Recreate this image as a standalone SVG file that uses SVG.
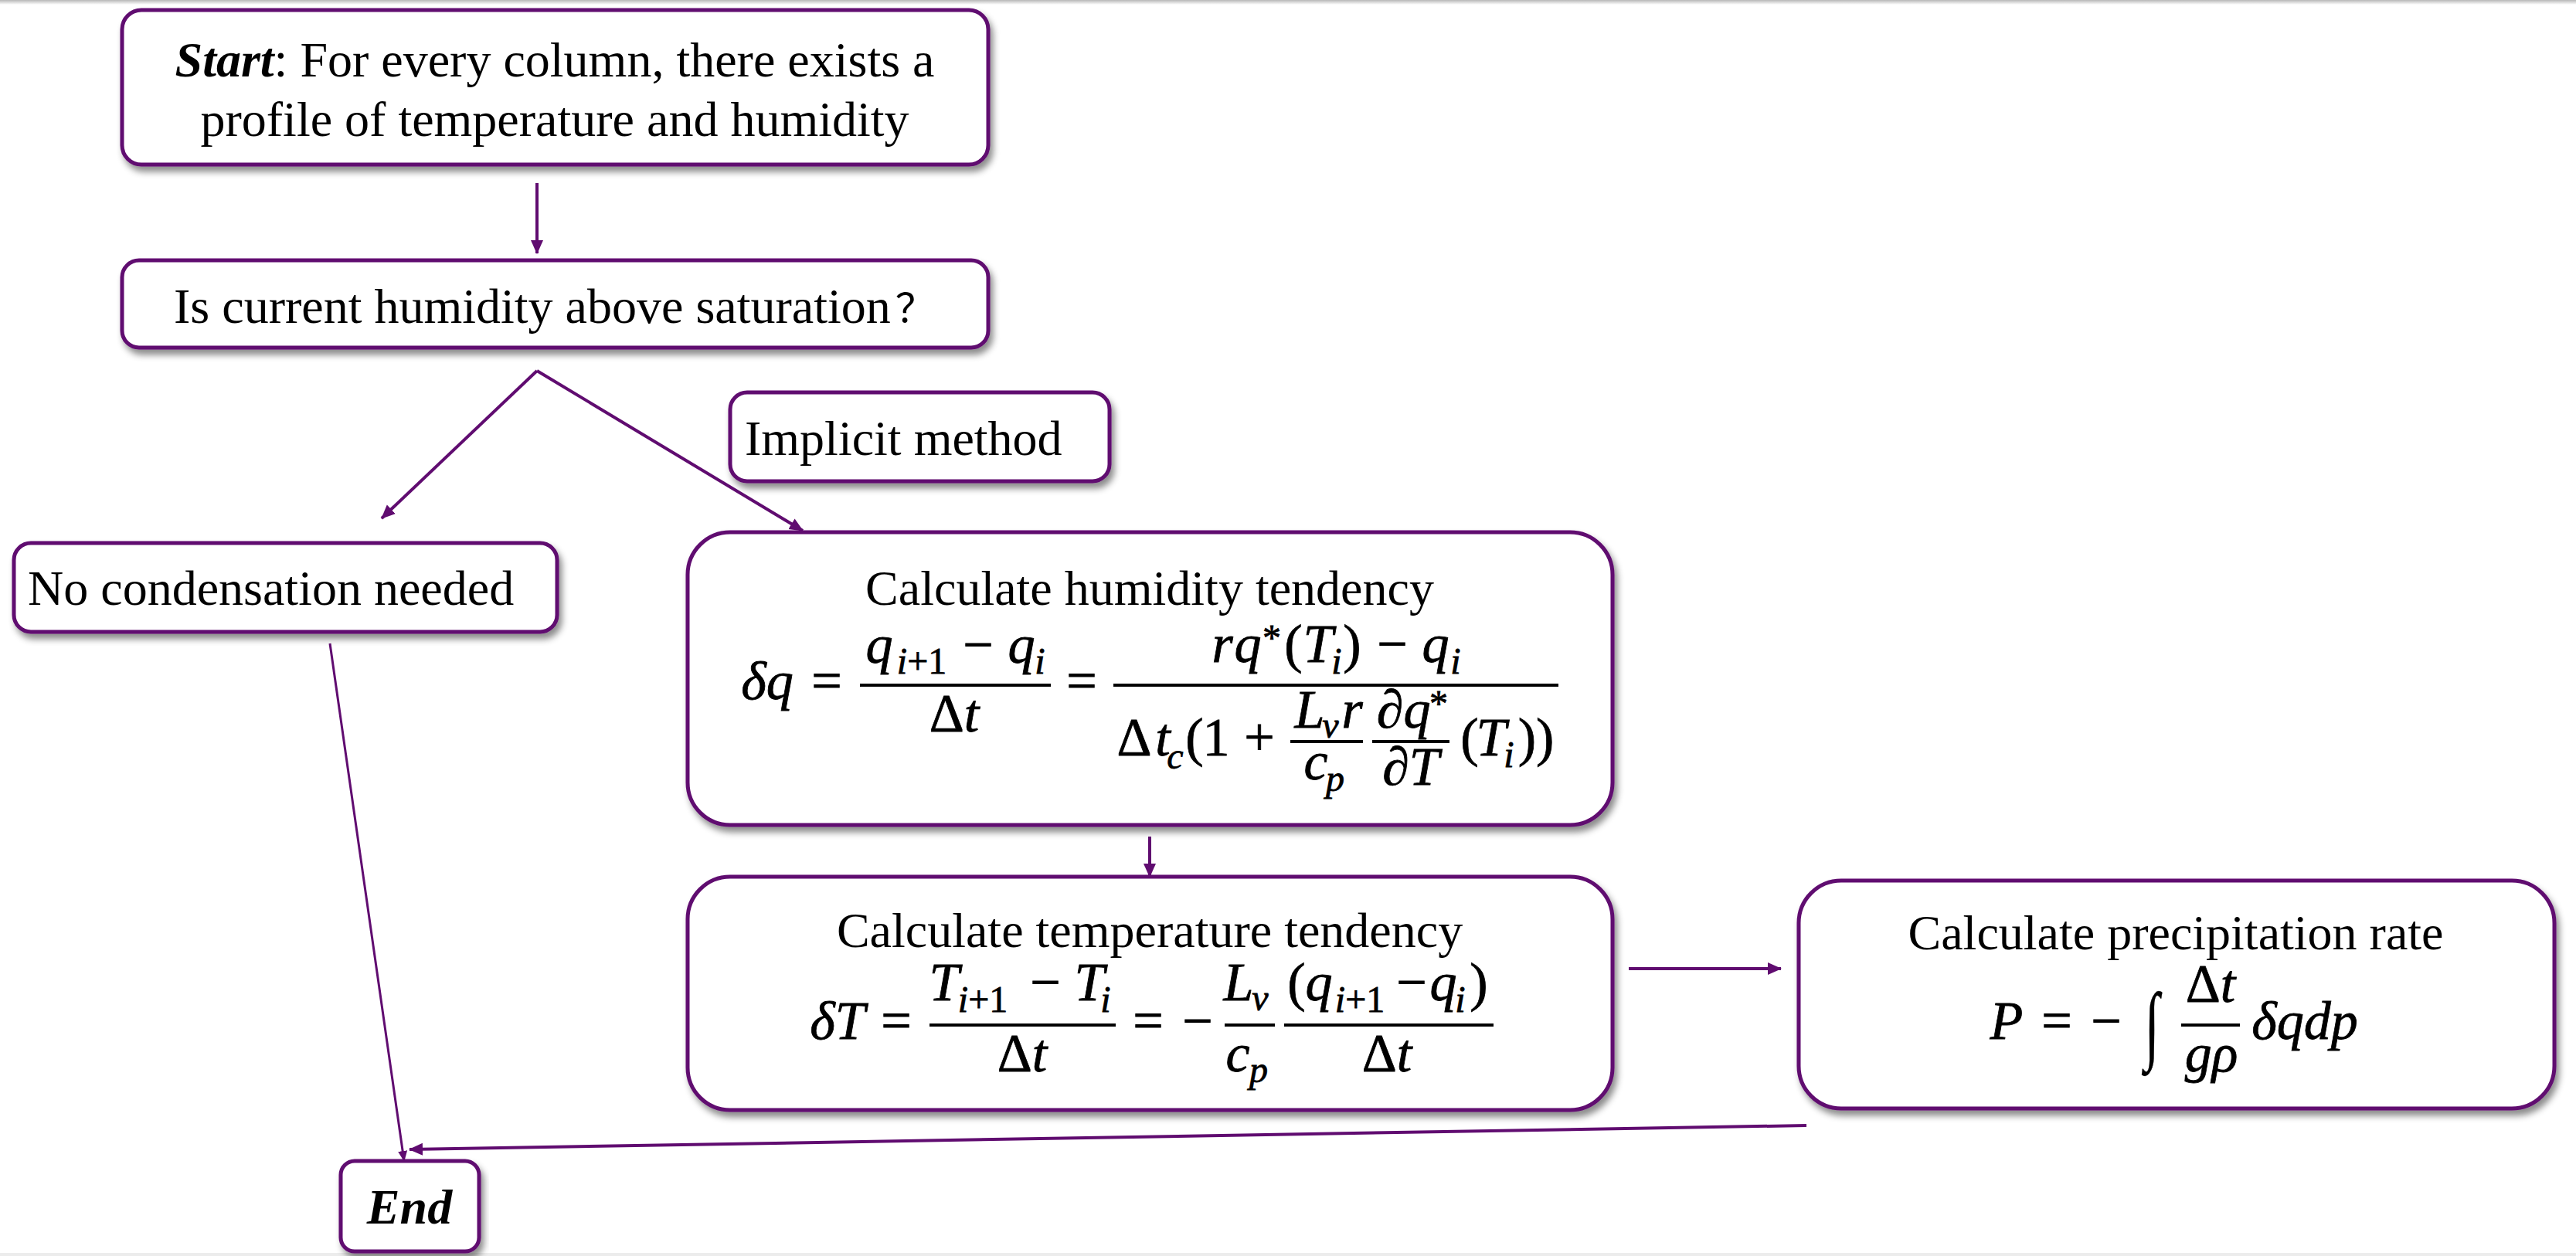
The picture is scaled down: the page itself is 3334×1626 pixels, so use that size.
<svg xmlns="http://www.w3.org/2000/svg" width="3334" height="1626" viewBox="0 0 3334 1626">
<defs>
<filter id="sh" x="-5%" y="-10%" width="112%" height="130%">
<feDropShadow dx="4" dy="7" stdDeviation="4" flood-color="#000" flood-opacity="0.45"/>
</filter>
<marker id="ah" markerUnits="userSpaceOnUse" markerWidth="18" markerHeight="18" viewBox="0 0 18 18" refX="17" refY="9" orient="auto">
<path d="M0,1 L18,9 L0,17 z" fill="#600C70"/>
</marker>
<marker id="ahs" markerUnits="userSpaceOnUse" markerWidth="14" markerHeight="14" viewBox="0 0 14 14" refX="13" refY="7" orient="auto">
<path d="M0,1 L14,7 L0,13 z" fill="#600C70"/>
</marker>
<linearGradient id="topg" x1="0" y1="0" x2="0" y2="1">
<stop offset="0" stop-color="#b8b8b8"/>
<stop offset="1" stop-color="#ffffff"/>
</linearGradient>
</defs>
<style>
.box{fill:#fff;stroke:#600C70;stroke-width:5;filter:url(#sh)}
.t{font-family:"Liberation Serif","Times New Roman",serif;font-size:64px;fill:#000}
.m{font-family:"Liberation Serif","Times New Roman",serif;font-size:70px;font-style:italic;fill:#000;text-anchor:middle;stroke:#000;stroke-width:0.8}
.r{font-style:normal}
.s{font-size:48px}
.bar{stroke:#000;stroke-width:4}
.c{fill:none;stroke:#600C70;stroke-width:4}
</style>
<rect x="0" y="0" width="3334" height="1626" fill="#fff"/>
<rect x="0" y="0" width="3334" height="6" fill="url(#topg)"/>
<rect x="0" y="1622" width="3334" height="4" fill="#ececec"/>

<g id="connectors">
<line class="c" x1="695" y1="237" x2="695" y2="328" marker-end="url(#ah)"/>
<line class="c" x1="695" y1="480" x2="494" y2="671" marker-end="url(#ah)"/>
<line class="c" x1="695" y1="480" x2="1039" y2="687" marker-end="url(#ah)"/>
<line class="c" x1="1488" y1="1083" x2="1488" y2="1135" marker-end="url(#ah)"/>
<line class="c" x1="2108" y1="1254" x2="2305" y2="1254" marker-end="url(#ah)"/>
<line class="c" style="stroke-width:3" x1="427" y1="833" x2="523" y2="1503" marker-end="url(#ahs)"/>
<line class="c" x1="2338" y1="1457" x2="530" y2="1488" marker-end="url(#ah)"/>
</g>

<g id="start">
<rect class="box" x="158" y="13" width="1121" height="200" rx="25"/>
<text class="t" x="718" y="99" text-anchor="middle"><tspan font-weight="bold" font-style="italic">Start</tspan>: For every column, there exists a</text>
<text class="t" x="718" y="176" text-anchor="middle">profile of temperature and humidity</text>
</g>

<g id="question">
<rect class="box" x="158" y="337" width="1121" height="113" rx="22"/>
<text class="t" x="225" y="418">Is current humidity above saturation<tspan dx="6" font-family="Noto Sans CJK SC, sans-serif" font-size="52">？</tspan></text>
</g>

<g id="implicit">
<rect class="box" x="945" y="508" width="491" height="115" rx="22"/>
<text class="t" x="964" y="589">Implicit method</text>
</g>

<g id="nocond">
<rect class="box" x="18" y="703" width="703" height="115" rx="22"/>
<text class="t" x="36" y="783">No condensation needed</text>
</g>

<g id="humidity">
<rect class="box" x="890" y="689" width="1197" height="379" rx="55"/>
<text class="t" x="1488" y="783" text-anchor="middle">Calculate humidity tendency</text>
<text class="m" x="993" y="905">δq</text>
<text class="m r" x="1070" y="905">=</text>
<line class="bar" x1="1113" y1="887" x2="1360" y2="887"/>
<text class="m" x="1138" y="858">q</text>
<text class="m s" x="1193" y="872">i<tspan class="r">+1</tspan></text>
<text class="m r" x="1266" y="858">−</text>
<text class="m" x="1322" y="858">q</text>
<text class="m s" x="1346" y="872">i</text>
<text class="m" x="1235" y="947"><tspan class="r">Δ</tspan>t</text>
<text class="m r" x="1400" y="905">=</text>
<line class="bar" x1="1441" y1="887" x2="2017" y2="887"/>
<text class="m" x="1582" y="857">r</text>
<text class="m" x="1615" y="857">q</text>
<text class="m r s" x="1646" y="842">*</text>
<text class="m r" x="1674" y="857">(</text>
<text class="m" x="1706" y="857">T</text>
<text class="m s" x="1730" y="872">i</text>
<text class="m r" x="1750" y="857">)</text>
<text class="m r" x="1802" y="857">−</text>
<text class="m" x="1858" y="857">q</text>
<text class="m s" x="1884" y="872">i</text>
<text class="m r" x="1468" y="978">Δ</text>
<text class="m" x="1505" y="978">t</text>
<text class="m s" x="1521" y="995">c</text>
<text class="m r" x="1546" y="978">(</text>
<text class="m r" x="1574" y="978">1</text>
<text class="m r" x="1630" y="978">+</text>
<line class="bar" x1="1670" y1="960" x2="1764" y2="960"/>
<text class="m" x="1695" y="942">L</text>
<text class="m s" x="1722" y="955">v</text>
<text class="m" x="1750" y="942">r</text>
<text class="m" x="1703" y="1009">c</text>
<text class="m s" x="1728" y="1024">p</text>
<line class="bar" x1="1776" y1="960" x2="1876" y2="960"/>
<text class="m" x="1799" y="942">∂</text>
<text class="m" x="1834" y="942">q</text>
<text class="m r s" x="1862" y="927">*</text>
<text class="m" x="1826" y="1016">∂T</text>
<text class="m r" x="1902" y="978">(</text>
<text class="m" x="1930" y="978">T</text>
<text class="m s" x="1953" y="993">i</text>
<text class="m r" x="1988" y="978">))</text>
</g>

<g id="temperature">
<rect class="box" x="890" y="1135" width="1197" height="302" rx="55"/>
<text class="t" x="1488" y="1226" text-anchor="middle">Calculate temperature tendency</text>
<text class="m" x="1084" y="1345">δT</text>
<text class="m r" x="1160" y="1345">=</text>
<line class="bar" x1="1203" y1="1327" x2="1444" y2="1327"/>
<text class="m" x="1222" y="1295">T</text>
<text class="m s" x="1272" y="1310">i<tspan class="r">+1</tspan></text>
<text class="m r" x="1353" y="1295">−</text>
<text class="m" x="1410" y="1295">T</text>
<text class="m s" x="1431" y="1310">i</text>
<text class="m" x="1323" y="1387"><tspan class="r">Δ</tspan>t</text>
<text class="m r" x="1486" y="1345">=</text>
<text class="m r" x="1550" y="1345">−</text>
<line class="bar" x1="1585" y1="1327" x2="1650" y2="1327"/>
<text class="m" x="1603" y="1295">L</text>
<text class="m s" x="1631" y="1308">v</text>
<text class="m" x="1602" y="1387">c</text>
<text class="m s" x="1629" y="1401">p</text>
<line class="bar" x1="1662" y1="1327" x2="1933" y2="1327"/>
<text class="m r" x="1678" y="1295">(</text>
<text class="m" x="1707" y="1295">q</text>
<text class="m s" x="1760" y="1310">i<tspan class="r">+1</tspan></text>
<text class="m r" x="1827" y="1295">−</text>
<text class="m" x="1868" y="1295">q</text>
<text class="m s" x="1890" y="1310">i</text>
<text class="m r" x="1914" y="1295">)</text>
<text class="m" x="1795" y="1387"><tspan class="r">Δ</tspan>t</text>
</g>

<g id="precipitation">
<rect class="box" x="2328" y="1140" width="978" height="295" rx="55"/>
<text class="t" x="2816" y="1229" text-anchor="middle">Calculate precipitation rate</text>
<text class="m" x="2597" y="1345">P</text>
<text class="m r" x="2662" y="1345">=</text>
<text class="m r" x="2726" y="1345">−</text>
<text class="m r" transform="translate(2785,1363) scale(1,1.6)" x="0" y="0" font-size="250" style="stroke-width:0.3">∫</text>
<line class="bar" x1="2823" y1="1327" x2="2899" y2="1327"/>
<text class="m" x="2861" y="1297"><tspan class="r">Δ</tspan>t</text>
<text class="m" x="2862" y="1387">gρ</text>
<text class="m" x="2983" y="1345">δqdp</text>
</g>

<g id="end">
<rect class="box" x="441" y="1503" width="179" height="117" rx="18"/>
<text class="t" x="530" y="1584" text-anchor="middle" font-weight="bold" font-style="italic">End</text>
</g>
</svg>
